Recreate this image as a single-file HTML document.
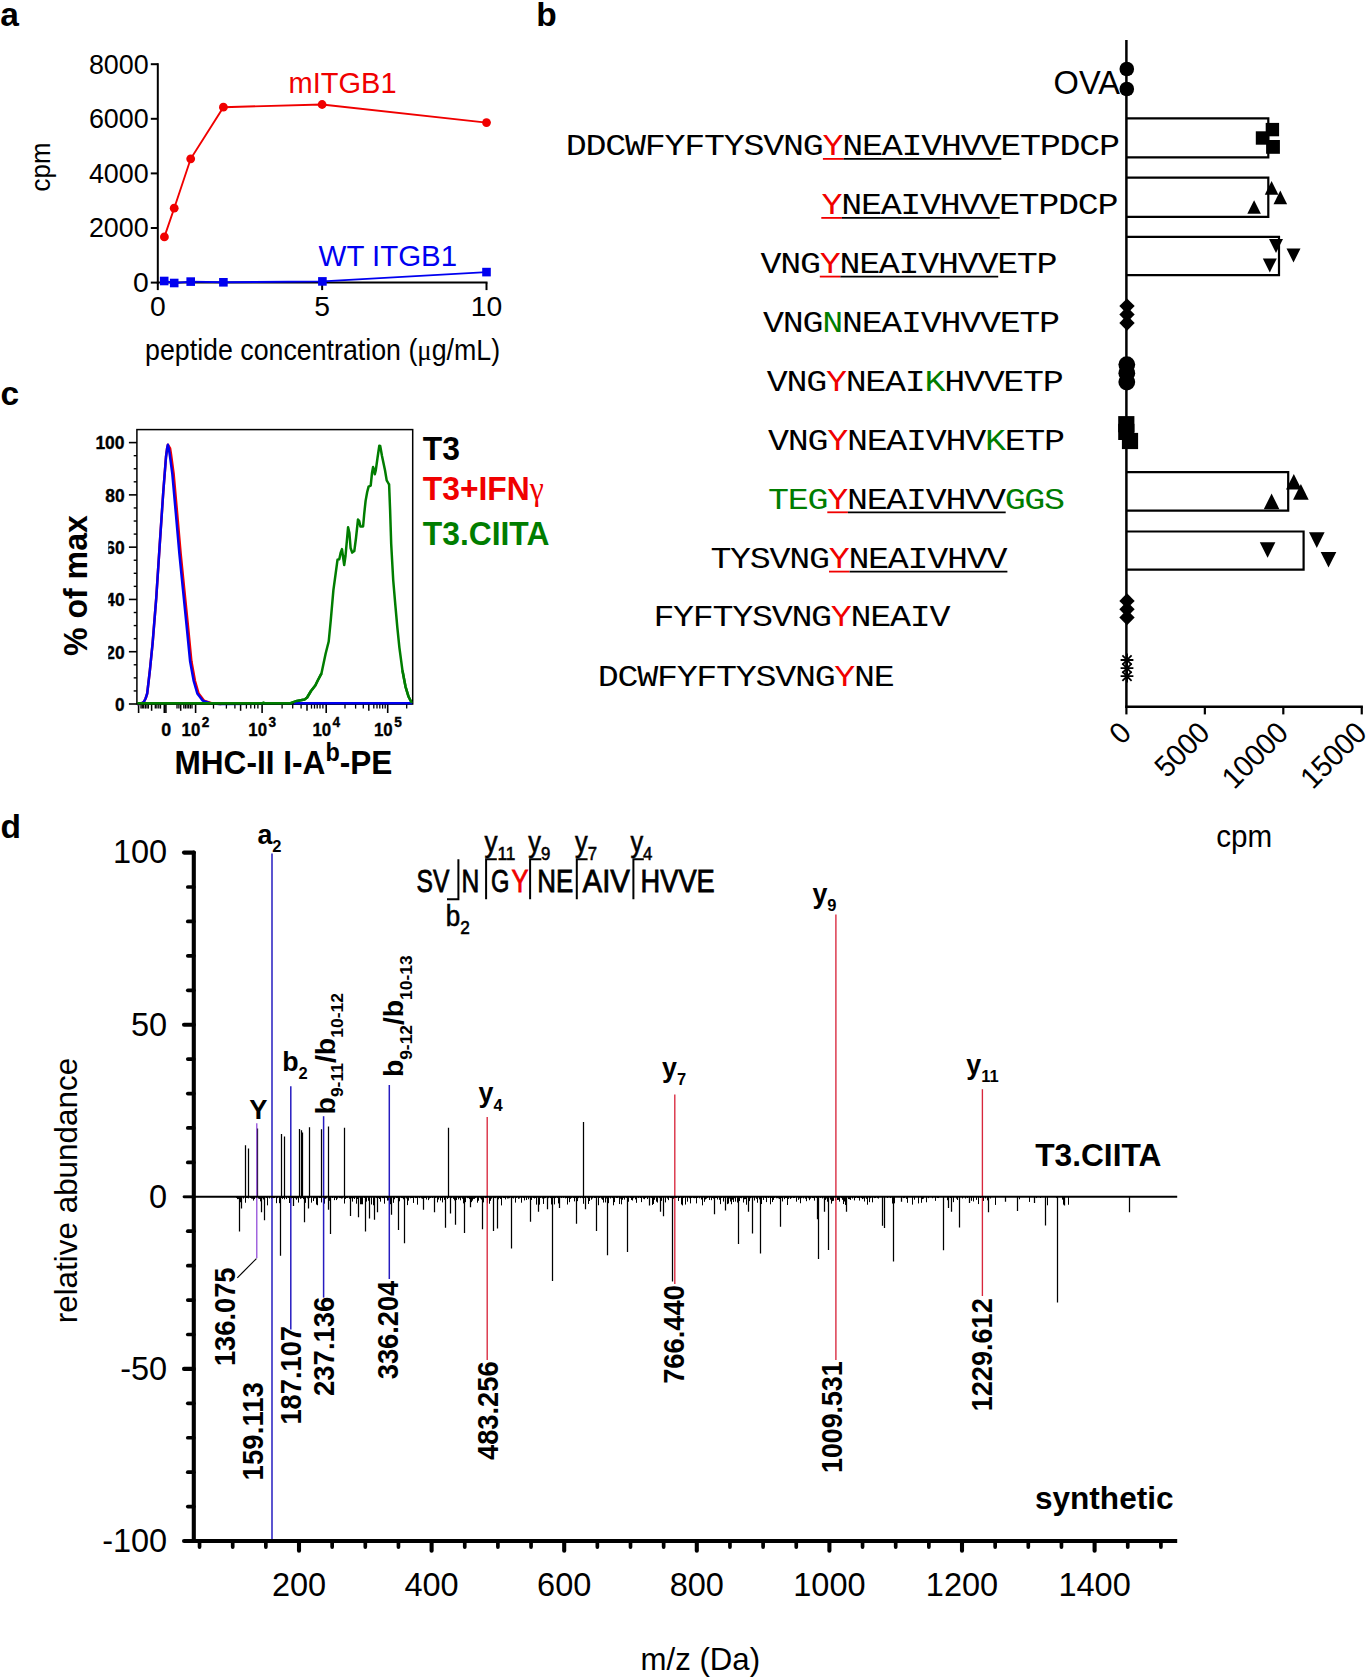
<!DOCTYPE html>
<html lang="en"><head><meta charset="utf-8"><title>Figure</title>
<style>html,body{margin:0;padding:0;background:#fff}svg{display:block}text{font-family:"Liberation Sans", sans-serif;}.mono{font-family:"Liberation Mono", "DejaVu Sans Mono", monospace;}.serif{font-family:"Liberation Serif","DejaVu Serif",serif;}</style>
</head><body>
<svg width="1366" height="1678" viewBox="0 0 1366 1678">
<rect width="1366" height="1678" fill="#fff"/>
<text x="0.2" y="26" font-size="33.5" font-weight="bold">a</text>
<text x="536.3" y="26" font-size="33.5" font-weight="bold">b</text>
<text x="0.4" y="405.2" font-size="33.5" font-weight="bold">c</text>
<text x="0.4" y="837.9" font-size="33.5" font-weight="bold">d</text>
<g id="panel-a">
<line x1="157.8" y1="63.2" x2="157.8" y2="283.6" stroke="#000" stroke-width="2"/>
<line x1="156.8" y1="282.6" x2="487.5" y2="282.6" stroke="#000" stroke-width="2"/>
<line x1="150.8" y1="282.6" x2="157.8" y2="282.6" stroke="#000" stroke-width="2"/>
<text x="148.7" y="291.9" font-size="28.3" text-anchor="end">0</text>
<line x1="150.8" y1="228" x2="157.8" y2="228" stroke="#000" stroke-width="2"/>
<text x="148.7" y="237.3" font-size="28.3" text-anchor="end" textLength="59.8" lengthAdjust="spacingAndGlyphs">2000</text>
<line x1="150.8" y1="173.4" x2="157.8" y2="173.4" stroke="#000" stroke-width="2"/>
<text x="148.7" y="182.7" font-size="28.3" text-anchor="end" textLength="59.8" lengthAdjust="spacingAndGlyphs">4000</text>
<line x1="150.8" y1="118.8" x2="157.8" y2="118.8" stroke="#000" stroke-width="2"/>
<text x="148.7" y="128.1" font-size="28.3" text-anchor="end" textLength="59.8" lengthAdjust="spacingAndGlyphs">6000</text>
<line x1="150.8" y1="64.2" x2="157.8" y2="64.2" stroke="#000" stroke-width="2"/>
<text x="148.7" y="73.5" font-size="28.3" text-anchor="end" textLength="59.8" lengthAdjust="spacingAndGlyphs">8000</text>
<line x1="157.8" y1="282.6" x2="157.8" y2="290.1" stroke="#000" stroke-width="2"/>
<text x="157.8" y="316" font-size="28.3" text-anchor="middle">0</text>
<line x1="322.15" y1="282.6" x2="322.15" y2="290.1" stroke="#000" stroke-width="2"/>
<text x="322.15" y="316" font-size="28.3" text-anchor="middle">5</text>
<line x1="486.5" y1="282.6" x2="486.5" y2="290.1" stroke="#000" stroke-width="2"/>
<text x="486.5" y="316" font-size="28.3" text-anchor="middle">10</text>
<text x="322.6" y="359.6" font-size="28.8" text-anchor="middle" textLength="355" lengthAdjust="spacingAndGlyphs">peptide concentration (<tspan class="serif">μ</tspan>g/mL)</text>
<text font-size="28.3" text-anchor="middle" textLength="48.8" lengthAdjust="spacingAndGlyphs" transform="translate(49.6 167) rotate(-90)">cpm</text>
<polyline fill="none" stroke="#f00000" stroke-width="1.9" points="164.4,236.9 174.2,208.2 190.7,158.8 223.4,107.2 322.1,104.5 486.5,122.6"/>
<circle cx="164.4" cy="236.9" r="4.4" fill="#f00000"/>
<circle cx="174.2" cy="208.2" r="4.4" fill="#f00000"/>
<circle cx="190.7" cy="158.8" r="4.4" fill="#f00000"/>
<circle cx="223.4" cy="107.2" r="4.4" fill="#f00000"/>
<circle cx="322.1" cy="104.5" r="4.4" fill="#f00000"/>
<circle cx="486.5" cy="122.6" r="4.4" fill="#f00000"/>
<polyline fill="none" stroke="#0000f0" stroke-width="1.9" points="164.2,281 174.2,283 190.7,281.6 223.4,282.3 322.4,281.4 486.5,272.1"/>
<rect x="159.9" y="276.7" width="8.6" height="8.6" fill="#0000f0"/>
<rect x="169.9" y="278.7" width="8.6" height="8.6" fill="#0000f0"/>
<rect x="186.4" y="277.3" width="8.6" height="8.6" fill="#0000f0"/>
<rect x="219.1" y="278" width="8.6" height="8.6" fill="#0000f0"/>
<rect x="318.1" y="277.1" width="8.6" height="8.6" fill="#0000f0"/>
<rect x="482.2" y="267.8" width="8.6" height="8.6" fill="#0000f0"/>
<text x="288.6" y="93.3" font-size="29.3" fill="#f00000" textLength="108" lengthAdjust="spacingAndGlyphs">mITGB1</text>
<text x="318.6" y="265.6" font-size="29.3" fill="#0000f0" textLength="138.5" lengthAdjust="spacingAndGlyphs">WT ITGB1</text>
</g>
<g id="panel-c">
<line x1="128.9" y1="704" x2="136.9" y2="704" stroke="#000" stroke-width="1.6"/>
<line x1="133.7" y1="690.93" x2="136.9" y2="690.93" stroke="#000" stroke-width="1.4"/>
<line x1="133.7" y1="677.86" x2="136.9" y2="677.86" stroke="#000" stroke-width="1.4"/>
<line x1="133.7" y1="664.79" x2="136.9" y2="664.79" stroke="#000" stroke-width="1.4"/>
<line x1="128.9" y1="651.72" x2="136.9" y2="651.72" stroke="#000" stroke-width="1.6"/>
<line x1="133.7" y1="638.65" x2="136.9" y2="638.65" stroke="#000" stroke-width="1.4"/>
<line x1="133.7" y1="625.58" x2="136.9" y2="625.58" stroke="#000" stroke-width="1.4"/>
<line x1="133.7" y1="612.51" x2="136.9" y2="612.51" stroke="#000" stroke-width="1.4"/>
<line x1="128.9" y1="599.44" x2="136.9" y2="599.44" stroke="#000" stroke-width="1.6"/>
<line x1="133.7" y1="586.37" x2="136.9" y2="586.37" stroke="#000" stroke-width="1.4"/>
<line x1="133.7" y1="573.3" x2="136.9" y2="573.3" stroke="#000" stroke-width="1.4"/>
<line x1="133.7" y1="560.23" x2="136.9" y2="560.23" stroke="#000" stroke-width="1.4"/>
<line x1="128.9" y1="547.16" x2="136.9" y2="547.16" stroke="#000" stroke-width="1.6"/>
<line x1="133.7" y1="534.09" x2="136.9" y2="534.09" stroke="#000" stroke-width="1.4"/>
<line x1="133.7" y1="521.02" x2="136.9" y2="521.02" stroke="#000" stroke-width="1.4"/>
<line x1="133.7" y1="507.95" x2="136.9" y2="507.95" stroke="#000" stroke-width="1.4"/>
<line x1="128.9" y1="494.88" x2="136.9" y2="494.88" stroke="#000" stroke-width="1.6"/>
<line x1="133.7" y1="481.81" x2="136.9" y2="481.81" stroke="#000" stroke-width="1.4"/>
<line x1="133.7" y1="468.74" x2="136.9" y2="468.74" stroke="#000" stroke-width="1.4"/>
<line x1="133.7" y1="455.67" x2="136.9" y2="455.67" stroke="#000" stroke-width="1.4"/>
<line x1="128.9" y1="442.6" x2="136.9" y2="442.6" stroke="#000" stroke-width="1.6"/>
<clipPath id="cc"><rect x="108.3" y="420" width="40" height="300"/></clipPath>
<text x="124.6" y="710.8" font-size="18.5" font-weight="bold" text-anchor="end" textLength="9.6" lengthAdjust="spacingAndGlyphs" stroke="#000" stroke-width="0.35">0</text>
<text x="124.6" y="658.52" font-size="18.5" font-weight="bold" text-anchor="end" textLength="19.4" lengthAdjust="spacingAndGlyphs" clip-path="url(#cc)" stroke="#000" stroke-width="0.35">20</text>
<text x="124.6" y="606.24" font-size="18.5" font-weight="bold" text-anchor="end" textLength="19.4" lengthAdjust="spacingAndGlyphs" clip-path="url(#cc)" stroke="#000" stroke-width="0.35">40</text>
<text x="124.6" y="553.96" font-size="18.5" font-weight="bold" text-anchor="end" textLength="19.4" lengthAdjust="spacingAndGlyphs" clip-path="url(#cc)" stroke="#000" stroke-width="0.35">60</text>
<text x="124.6" y="501.68" font-size="18.5" font-weight="bold" text-anchor="end" textLength="19.4" lengthAdjust="spacingAndGlyphs" stroke="#000" stroke-width="0.35">80</text>
<text x="124.6" y="449.4" font-size="18.5" font-weight="bold" text-anchor="end" textLength="29.2" lengthAdjust="spacingAndGlyphs" stroke="#000" stroke-width="0.35">100</text>
<line x1="138.6" y1="704" x2="138.6" y2="713" stroke="#000" stroke-width="1.6"/>
<line x1="195.6" y1="704" x2="195.6" y2="713" stroke="#000" stroke-width="1.6"/>
<line x1="262.1" y1="704" x2="262.1" y2="713" stroke="#000" stroke-width="1.6"/>
<line x1="326.2" y1="704" x2="326.2" y2="713" stroke="#000" stroke-width="1.6"/>
<line x1="387.7" y1="704" x2="387.7" y2="713" stroke="#000" stroke-width="1.6"/>
<line x1="164.3" y1="704" x2="164.3" y2="713" stroke="#000" stroke-width="1.6"/>
<line x1="165.9" y1="704" x2="165.9" y2="713" stroke="#000" stroke-width="1.6"/>
<line x1="151.6" y1="704" x2="151.6" y2="710.8" stroke="#000" stroke-width="1.5"/>
<line x1="180.7" y1="704" x2="180.7" y2="710.8" stroke="#000" stroke-width="1.5"/>
<line x1="240.6" y1="704" x2="240.6" y2="710.8" stroke="#000" stroke-width="1.5"/>
<line x1="307" y1="704" x2="307" y2="710.8" stroke="#000" stroke-width="1.5"/>
<line x1="368.8" y1="704" x2="368.8" y2="710.8" stroke="#000" stroke-width="1.5"/>
<line x1="141" y1="704" x2="141" y2="708.6" stroke="#000" stroke-width="1.3"/>
<line x1="142.3" y1="704" x2="142.3" y2="708.6" stroke="#000" stroke-width="1.3"/>
<line x1="143.7" y1="704" x2="143.7" y2="708.6" stroke="#000" stroke-width="1.3"/>
<line x1="145.4" y1="704" x2="145.4" y2="708.6" stroke="#000" stroke-width="1.3"/>
<line x1="147" y1="704" x2="147" y2="708.6" stroke="#000" stroke-width="1.3"/>
<line x1="148.4" y1="704" x2="148.4" y2="708.6" stroke="#000" stroke-width="1.3"/>
<line x1="155.3" y1="704" x2="155.3" y2="708.6" stroke="#000" stroke-width="1.3"/>
<line x1="156.9" y1="704" x2="156.9" y2="708.6" stroke="#000" stroke-width="1.3"/>
<line x1="158.8" y1="704" x2="158.8" y2="708.6" stroke="#000" stroke-width="1.3"/>
<line x1="160.5" y1="704" x2="160.5" y2="708.6" stroke="#000" stroke-width="1.3"/>
<line x1="177" y1="704" x2="177" y2="708.6" stroke="#000" stroke-width="1.3"/>
<line x1="178.9" y1="704" x2="178.9" y2="708.6" stroke="#000" stroke-width="1.3"/>
<line x1="183.8" y1="704" x2="183.8" y2="708.6" stroke="#000" stroke-width="1.3"/>
<line x1="185.4" y1="704" x2="185.4" y2="708.6" stroke="#000" stroke-width="1.3"/>
<line x1="187.1" y1="704" x2="187.1" y2="708.6" stroke="#000" stroke-width="1.3"/>
<line x1="188.7" y1="704" x2="188.7" y2="708.6" stroke="#000" stroke-width="1.3"/>
<line x1="190.4" y1="704" x2="190.4" y2="708.6" stroke="#000" stroke-width="1.3"/>
<line x1="192" y1="704" x2="192" y2="708.6" stroke="#000" stroke-width="1.3"/>
<line x1="213.5" y1="704" x2="213.5" y2="708.6" stroke="#000" stroke-width="1.3"/>
<line x1="226.4" y1="704" x2="226.4" y2="708.6" stroke="#000" stroke-width="1.3"/>
<line x1="234.9" y1="704" x2="234.9" y2="708.6" stroke="#000" stroke-width="1.3"/>
<line x1="246.4" y1="704" x2="246.4" y2="708.6" stroke="#000" stroke-width="1.3"/>
<line x1="250.8" y1="704" x2="250.8" y2="708.6" stroke="#000" stroke-width="1.3"/>
<line x1="254.6" y1="704" x2="254.6" y2="708.6" stroke="#000" stroke-width="1.3"/>
<line x1="257.9" y1="704" x2="257.9" y2="708.6" stroke="#000" stroke-width="1.3"/>
<line x1="282.1" y1="704" x2="282.1" y2="708.6" stroke="#000" stroke-width="1.3"/>
<line x1="292.7" y1="704" x2="292.7" y2="708.6" stroke="#000" stroke-width="1.3"/>
<line x1="301.1" y1="704" x2="301.1" y2="708.6" stroke="#000" stroke-width="1.3"/>
<line x1="311.5" y1="704" x2="311.5" y2="708.6" stroke="#000" stroke-width="1.3"/>
<line x1="314.5" y1="704" x2="314.5" y2="708.6" stroke="#000" stroke-width="1.3"/>
<line x1="317.2" y1="704" x2="317.2" y2="708.6" stroke="#000" stroke-width="1.3"/>
<line x1="320" y1="704" x2="320" y2="708.6" stroke="#000" stroke-width="1.3"/>
<line x1="322.9" y1="704" x2="322.9" y2="708.6" stroke="#000" stroke-width="1.3"/>
<line x1="345" y1="704" x2="345" y2="708.6" stroke="#000" stroke-width="1.3"/>
<line x1="355.6" y1="704" x2="355.6" y2="708.6" stroke="#000" stroke-width="1.3"/>
<line x1="363.3" y1="704" x2="363.3" y2="708.6" stroke="#000" stroke-width="1.3"/>
<line x1="373.8" y1="704" x2="373.8" y2="708.6" stroke="#000" stroke-width="1.3"/>
<line x1="377" y1="704" x2="377" y2="708.6" stroke="#000" stroke-width="1.3"/>
<line x1="379.8" y1="704" x2="379.8" y2="708.6" stroke="#000" stroke-width="1.3"/>
<line x1="382.6" y1="704" x2="382.6" y2="708.6" stroke="#000" stroke-width="1.3"/>
<line x1="385.2" y1="704" x2="385.2" y2="708.6" stroke="#000" stroke-width="1.3"/>
<line x1="406.7" y1="704" x2="406.7" y2="708.6" stroke="#000" stroke-width="1.3"/>
<text x="166.2" y="736.2" font-size="18.5" font-weight="bold" text-anchor="middle" textLength="9.9" lengthAdjust="spacingAndGlyphs" stroke="#000" stroke-width="0.35">0</text>
<text x="181.6" y="736.2" font-size="18.5" font-weight="bold" textLength="18.7" lengthAdjust="spacingAndGlyphs" stroke="#000" stroke-width="0.35">10</text>
<text x="201.8" y="727.4" font-size="15.5" font-weight="bold" textLength="7.6" lengthAdjust="spacingAndGlyphs" stroke="#000" stroke-width="0.35">2</text>
<text x="248.3" y="736.2" font-size="18.5" font-weight="bold" textLength="18.7" lengthAdjust="spacingAndGlyphs" stroke="#000" stroke-width="0.35">10</text>
<text x="268.5" y="727.4" font-size="15.5" font-weight="bold" textLength="7.6" lengthAdjust="spacingAndGlyphs" stroke="#000" stroke-width="0.35">3</text>
<text x="312.4" y="736.2" font-size="18.5" font-weight="bold" textLength="18.7" lengthAdjust="spacingAndGlyphs" stroke="#000" stroke-width="0.35">10</text>
<text x="332.6" y="727.4" font-size="15.5" font-weight="bold" textLength="7.6" lengthAdjust="spacingAndGlyphs" stroke="#000" stroke-width="0.35">4</text>
<text x="374" y="736.2" font-size="18.5" font-weight="bold" textLength="18.7" lengthAdjust="spacingAndGlyphs" stroke="#000" stroke-width="0.35">10</text>
<text x="394.2" y="727.4" font-size="15.5" font-weight="bold" textLength="7.6" lengthAdjust="spacingAndGlyphs" stroke="#000" stroke-width="0.35">5</text>
<polyline fill="none" stroke="#f00000" stroke-width="2.5" stroke-linejoin="round" points="137.4,704.2 141,703.6 143.7,702.2 145.6,698.5 147.2,693.5 149.9,670.2 152.6,643.4 156.2,598.7 159.7,545.1 163.3,491.5 166,457 167.1,448.5 167.9,444.8 170.1,448.5 171.1,455 173.6,473.6 177.1,512.9 180.7,554 184.3,589.8 187.9,625.5 191.4,661.3 195,681 198.6,693.5 203.9,700.6 212.9,703.6 221.3,704"/>
<polyline fill="none" stroke="#0000f0" stroke-width="2.5" stroke-linejoin="round" points="137.4,704.2 141,703.6 143.7,702.2 145.6,698.5 147.2,693.5 149.9,670.2 152.6,643.4 156.2,598.7 159.7,545.1 163.3,491.5 166,457 167.1,448.5 167.9,444.8 168.8,448.5 169.8,455 172.3,473.6 175.8,512.9 179.4,554 183,589.8 186.6,625.5 190.1,661.3 193.7,681 197.3,693.5 202.6,700.6 211.6,703.6 220,704 412.7,703.2"/>
<polyline fill="none" stroke="#007d00" stroke-width="2.5" stroke-linejoin="round" points="137.4,703.4 262,703.4 263.5,702.6 265,703.4 289.8,703.4 296.9,700.9 304.5,699.6 307.1,697.5 311,691 315.3,685.5 318,680 321.5,673.3 325.6,653.8 328.7,641.5 330.7,621 333.4,590.2 334.8,579.8 337.5,559.8 339.3,559.3 340.6,553 342,549.1 343.2,558 344.2,565 345.5,556 348.1,527.2 349.4,533 350.6,548 352.2,552.6 354.3,551.1 356,538 358,519.5 359.2,521 360.4,526.5 363.1,526.5 364.2,514 365.6,500.9 367.2,492 368.6,486.6 370.7,485.6 372,473 373.1,467.1 374.1,470 374.8,474.3 375.8,470.2 377.5,458 379.3,445.8 380.2,446 382,456 385,470.2 386.7,480.4 388.2,483 389.1,484.5 390.1,510 391.2,544 393.2,580 395.3,604.6 397.3,627.1 399.4,647.6 402.4,670.2 405.5,686.6 408.6,696.8 411.8,703"/>
<rect x="136.9" y="429.6" width="275.8" height="274.4" fill="none" stroke="#000" stroke-width="1.5"/>
<line x1="137.4" y1="703.3" x2="292" y2="703.3" stroke="#007d00" stroke-width="2.4"/>
<line x1="294" y1="703.1" x2="412.2" y2="703.1" stroke="#0000f0" stroke-width="2.2"/>
<polyline fill="none" stroke="#007d00" stroke-width="2.5" stroke-linejoin="round" points="289.8,703.4 296.9,700.9 304.5,699.6 307.1,697.5 311,691 315.3,685.5 318,680 321.5,673.3"/>
<polyline fill="none" stroke="#007d00" stroke-width="2.5" stroke-linejoin="round" points="402.4,670.2 405.5,686.6 408.6,696.8 411.8,703"/>
<text font-size="32.3" font-weight="bold" text-anchor="middle" textLength="141" lengthAdjust="spacingAndGlyphs" transform="translate(86.5 585.6) rotate(-90) scale(1 1.05)">% of max</text>
<text font-size="31.6" font-weight="bold" textLength="218" lengthAdjust="spacingAndGlyphs" transform="translate(174.4 773.5) scale(1 1.07)">MHC-II I-A<tspan dy="-11.4" font-size="23.4">b</tspan><tspan dy="11.4">-PE</tspan></text>
<text font-size="31.8" font-weight="bold" transform="translate(422.8 459.8) scale(1 1.05)">T3</text>
<text font-size="31.8" font-weight="bold" fill="#f00000" transform="translate(422.8 500) scale(1 1.05)">T3+IFN<tspan class="serif" font-weight="normal">γ</tspan></text>
<text font-size="31.8" font-weight="bold" fill="#007d00" transform="translate(422.8 545.2) scale(1 1.05)">T3.CIITA</text>
</g>
<g id="panel-b">
<text class="mono" transform="translate(565.7 155.3) scale(1 0.83)" font-size="35" textLength="554.4" lengthAdjust="spacing">DDCWFYFTYSVNG<tspan fill="#f00000">Y</tspan>NEAIVHVVETPDCP</text>
<line x1="822.9" y1="158.9" x2="843.5" y2="158.9" stroke="#f00000" stroke-width="1.8"/>
<line x1="843.5" y1="158.9" x2="1001.3" y2="158.9" stroke="#000" stroke-width="1.8"/>
<text class="mono" transform="translate(821.5 214.3) scale(1 0.83)" font-size="35" textLength="297" lengthAdjust="spacing"><tspan fill="#f00000">Y</tspan>NEAIVHVVETPDCP</text>
<line x1="821.3" y1="217.9" x2="841.9" y2="217.9" stroke="#f00000" stroke-width="1.8"/>
<line x1="841.9" y1="217.9" x2="999.7" y2="217.9" stroke="#000" stroke-width="1.8"/>
<text class="mono" transform="translate(760.6 273) scale(1 0.83)" font-size="35" textLength="297" lengthAdjust="spacing">VNG<tspan fill="#f00000">Y</tspan>NEAIVHVVETP</text>
<line x1="819.8" y1="276.6" x2="840.4" y2="276.6" stroke="#f00000" stroke-width="1.8"/>
<line x1="840.4" y1="276.6" x2="998.2" y2="276.6" stroke="#000" stroke-width="1.8"/>
<text class="mono" transform="translate(763.1 332.2) scale(1 0.83)" font-size="35" textLength="297" lengthAdjust="spacing">VNG<tspan fill="#007d00">N</tspan>NEAIVHVVETP</text>
<text class="mono" transform="translate(766.8 391.4) scale(1 0.83)" font-size="35" textLength="297" lengthAdjust="spacing">VNG<tspan fill="#f00000">Y</tspan>NEAI<tspan fill="#007d00">K</tspan>HVVETP</text>
<text class="mono" transform="translate(768.1 450.3) scale(1 0.83)" font-size="35" textLength="297" lengthAdjust="spacing">VNG<tspan fill="#f00000">Y</tspan>NEAIVHV<tspan fill="#007d00">K</tspan>ETP</text>
<text class="mono" transform="translate(768.1 508.7) scale(1 0.83)" font-size="35" textLength="297" lengthAdjust="spacing"><tspan fill="#007d00">TEG</tspan><tspan fill="#f00000">Y</tspan>NEAIVHVV<tspan fill="#007d00">GGS</tspan></text>
<line x1="827.3" y1="512.3" x2="847.9" y2="512.3" stroke="#f00000" stroke-width="1.8"/>
<line x1="847.9" y1="512.3" x2="1005.7" y2="512.3" stroke="#000" stroke-width="1.8"/>
<text class="mono" transform="translate(710.4 568) scale(1 0.83)" font-size="35" textLength="297" lengthAdjust="spacing">TYSVNG<tspan fill="#f00000">Y</tspan>NEAIVHVV</text>
<line x1="829" y1="571.6" x2="849.6" y2="571.6" stroke="#f00000" stroke-width="1.8"/>
<line x1="849.6" y1="571.6" x2="1007.4" y2="571.6" stroke="#000" stroke-width="1.8"/>
<text class="mono" transform="translate(653.4 626.4) scale(1 0.83)" font-size="35" textLength="297" lengthAdjust="spacing">FYFTYSVNG<tspan fill="#f00000">Y</tspan>NEAIV</text>
<text class="mono" transform="translate(597.8 685.7) scale(1 0.83)" font-size="35" textLength="297" lengthAdjust="spacing">DCWFYFTYSVNG<tspan fill="#f00000">Y</tspan>NE</text>
<text font-size="31" textLength="66.4" lengthAdjust="spacingAndGlyphs" transform="translate(1053.6 93.5) scale(1 1.1)">OVA</text>
<line x1="1126.4" y1="40" x2="1126.4" y2="707.9" stroke="#000" stroke-width="2.5"/>
<line x1="1125.2" y1="706.7" x2="1362.9" y2="706.7" stroke="#000" stroke-width="2.4"/>
<line x1="1126.4" y1="706.7" x2="1126.4" y2="714.4" stroke="#000" stroke-width="2.2"/>
<line x1="1204.85" y1="706.7" x2="1204.85" y2="714.4" stroke="#000" stroke-width="2.2"/>
<line x1="1283.3" y1="706.7" x2="1283.3" y2="714.4" stroke="#000" stroke-width="2.2"/>
<line x1="1361.75" y1="706.7" x2="1361.75" y2="714.4" stroke="#000" stroke-width="2.2"/>
<path d="M1126.4 118.4H1268.3V157.4H1126.4" fill="none" stroke="#000" stroke-width="2.2"/>
<path d="M1126.4 177.7H1268.3V216.8H1126.4" fill="none" stroke="#000" stroke-width="2.2"/>
<path d="M1126.4 236.8H1279V275.2H1126.4" fill="none" stroke="#000" stroke-width="2.2"/>
<path d="M1126.4 472.2H1288.2V510.6H1126.4" fill="none" stroke="#000" stroke-width="2.2"/>
<path d="M1126.4 531.5H1303.6V569.7H1126.4" fill="none" stroke="#000" stroke-width="2.2"/>
<circle cx="1126.8" cy="69" r="7.3"/>
<circle cx="1126.8" cy="89" r="7.3"/>
<rect x="1265.7" y="122.9" width="13.4" height="13.4"/>
<rect x="1255.8" y="131.3" width="13.4" height="13.4"/>
<rect x="1266.1" y="140" width="13.8" height="13.8"/>
<path d="M1271.6 181.1L1278.4 194.7L1264.8 194.7Z"/>
<path d="M1280.3 190.6L1287.1 204.2L1273.5 204.2Z"/>
<path d="M1254.1 200.2L1260.9 213.8L1247.3 213.8Z"/>
<path d="M1276 253L1283 239L1269 239Z"/>
<path d="M1293.5 262.5L1300.5 248.5L1286.5 248.5Z"/>
<path d="M1269.8 272.4L1276.8 258.4L1262.8 258.4Z"/>
<path d="M1127 298.4L1134.7 306.1L1127 313.8L1119.3 306.1Z"/>
<path d="M1127 306.8L1134.7 314.5L1127 322.2L1119.3 314.5Z"/>
<path d="M1127 315.3L1134.7 323L1127 330.7L1119.3 323Z"/>
<circle cx="1126.8" cy="364.6" r="8.4"/>
<circle cx="1126.8" cy="373.2" r="8.4"/>
<circle cx="1126.8" cy="382.1" r="8.4"/>
<rect x="1118.2" y="416.1" width="16.2" height="16.2"/>
<rect x="1118.2" y="423.8" width="16.2" height="16.2"/>
<rect x="1121.9" y="432.9" width="16.2" height="16.2"/>
<path d="M1293.8 473.9L1301.6 489.5L1286 489.5Z"/>
<path d="M1300.9 484.1L1308.7 499.7L1293.1 499.7Z"/>
<path d="M1271.6 493.6L1279.4 509.2L1263.8 509.2Z"/>
<path d="M1316.8 547.9L1324.6 532.3L1309 532.3Z"/>
<path d="M1267.6 557.8L1275.4 542.2L1259.8 542.2Z"/>
<path d="M1328.5 567.6L1336.3 552L1320.7 552Z"/>
<path d="M1127 593.2L1134.7 600.9L1127 608.6L1119.3 600.9Z"/>
<path d="M1127 601.5L1134.7 609.2L1127 616.9L1119.3 609.2Z"/>
<path d="M1127 609.8L1134.7 617.5L1127 625.2L1119.3 617.5Z"/>
<path d="M1127 653.6V666.4M1120.6 660H1133.4M1122.39 655.39L1131.61 664.61M1122.39 664.61L1131.61 655.39" fill="none" stroke="#000" stroke-width="1.8"/>
<path d="M1127 661.8V674.6M1120.6 668.2H1133.4M1122.39 663.59L1131.61 672.81M1122.39 672.81L1131.61 663.59" fill="none" stroke="#000" stroke-width="1.8"/>
<path d="M1127 669.8V682.6M1120.6 676.2H1133.4M1122.39 671.59L1131.61 680.81M1122.39 680.81L1131.61 671.59" fill="none" stroke="#000" stroke-width="1.8"/>
<text font-size="30" text-anchor="end" textLength="15.75" lengthAdjust="spacingAndGlyphs" transform="translate(1133 734.5) rotate(-45)">0</text>
<text font-size="30" text-anchor="end" textLength="63" lengthAdjust="spacingAndGlyphs" transform="translate(1211.45 734.5) rotate(-45)">5000</text>
<text font-size="30" text-anchor="end" textLength="78.75" lengthAdjust="spacingAndGlyphs" transform="translate(1289.9 734.5) rotate(-45)">10000</text>
<text font-size="30" text-anchor="end" textLength="78.75" lengthAdjust="spacingAndGlyphs" transform="translate(1368.35 734.5) rotate(-45)">15000</text>
<text font-size="29.6" text-anchor="middle" transform="translate(1244.1 846.9) scale(1 1.07)">cpm</text>
</g>
<g id="panel-d">
<path d="M236.5 1196.8v1.23M237.5 1196.8v2.35M238.5 1196.8v2.18M239.5 1196.8v1.2M240.5 1196.8v5.44M241.5 1196.8v3.05M243.5 1196.8v1.67M245.5 1196.8v5.94M246.5 1196.8v1.21M247.5 1196.8v1.24M248.5 1196.8v1.59M250.5 1196.8v1.2M251.5 1196.8v1.79M252.5 1196.8v1.9M253.5 1196.8v3.76M254.5 1196.8v2.29M256.5 1196.8v1.38M258.5 1196.8v1.75M259.5 1196.8v2.08M260.5 1196.8v4.55M262.5 1196.8v1.43M263.5 1196.8v2.66M264.5 1196.8v7.52M266.5 1196.8v1.2M267.5 1196.8v8.55M269.5 1196.8v1.63M271.5 1196.8v1.94M272.5 1196.8v1.2M273.5 1196.8v1.31M274.5 1196.8v1.2M276.5 1196.8v6.37M277.5 1196.8v1.36M279.5 1196.8v6.38M281.5 1196.8v1.24M282.5 1196.8v2.06M283.5 1196.8v1.2M284.5 1196.8v2.56M286.5 1196.8v2.23M288.5 1196.8v1.2M289.5 1196.8v6.22M291.5 1196.8v1.68M292.5 1196.8v1.2M293.5 1196.8v1.23M294.5 1196.8v1.2M295.5 1196.8v1.56M296.5 1196.8v2.94M297.5 1196.8v1.51M298.5 1196.8v5.79M300.5 1196.8v2.05M301.5 1196.8v1.5M302.5 1196.8v1.23M303.5 1196.8v2.31M304.5 1196.8v1.2M305.5 1196.8v6.03M307.5 1196.8v1.57M308.5 1196.8v2.33M309.5 1196.8v1.28M311.5 1196.8v5.85M313.5 1196.8v4.24M314.5 1196.8v1.54M315.5 1196.8v1.36M316.5 1196.8v7.76M317.5 1196.8v8.43M319.5 1196.8v1.28M320.5 1196.8v1.26M321.5 1196.8v5.65M323.5 1196.8v5.03M324.5 1196.8v6.85M325.5 1196.8v2.02M326.5 1196.8v1.48M328.5 1196.8v1.67M329.5 1196.8v4.06M330.5 1196.8v1.23M332.5 1196.8v1.22M334.5 1196.8v3.33M335.5 1196.8v1.22M336.5 1196.8v3.26M337.5 1196.8v1.81M339.5 1196.8v1.27M340.5 1196.8v1.3M341.5 1196.8v1.75M342.5 1196.8v1.53M344.5 1196.8v6.75M345.5 1196.8v2.15M346.5 1196.8v1.2M347.5 1196.8v1.2M349.5 1196.8v2M351.5 1196.8v1.46M352.5 1196.8v4.82M353.5 1196.8v1.32M354.5 1196.8v2.18M356.5 1196.8v6.9M357.5 1196.8v2.17M358.5 1196.8v1.89M360.5 1196.8v7.46M361.5 1196.8v7.47M362.5 1196.8v7.49M364.5 1196.8v1.21M365.5 1196.8v1.3M366.5 1196.8v4.81M368.5 1196.8v3.95M369.5 1196.8v6.36M371.5 1196.8v7.68M373.5 1196.8v8.47M374.5 1196.8v1.8M376.5 1196.8v1.26M377.5 1196.8v1.2M378.5 1196.8v1.2M379.5 1196.8v2.21M380.5 1196.8v4.87M382.5 1196.8v1.34M383.5 1196.8v1.35M384.5 1196.8v6.88M386.5 1196.8v1.22M387.5 1196.8v3.78M388.5 1196.8v3.64M390.5 1196.8v7.4M391.5 1196.8v1.2M393.5 1196.8v6.02M394.5 1196.8v2.47M396.5 1196.8v1.22M397.5 1196.8v1.21M398.5 1196.8v1.26M399.5 1196.8v4.49M401.5 1196.8v1.24M402.5 1196.8v1.32M403.5 1196.8v2.45M404.5 1196.8v7.32M404.5 1196.8v1.81M406.5 1196.8v1.66M407.5 1196.8v8.31M408.5 1196.8v3.85M410.5 1196.8v1.51M411.5 1196.8v1.2M412.5 1196.8v1.23M413.5 1196.8v6.15M415.5 1196.8v1.31M416.5 1196.8v1.23M417.5 1196.8v7.87M419.5 1196.8v1.31M421.5 1196.8v1.54M422.5 1196.8v2M423.5 1196.8v2.16M424.5 1196.8v1.21M425.5 1196.8v1.2M426.5 1196.8v2.71M428.5 1196.8v3.33M429.5 1196.8v1.64M430.5 1196.8v1.23M432.5 1196.8v1.2M434.5 1196.8v3.05M435.5 1196.8v1.22M437.5 1196.8v5.57M438.5 1196.8v2.69M440.5 1196.8v3.7M441.5 1196.8v1.22M442.5 1196.8v5.58M444.5 1196.8v3.04M445.5 1196.8v1.2M447.5 1196.8v2.15M448.5 1196.8v1.2M450.5 1196.8v1.2M451.5 1196.8v1.26M453.5 1196.8v2.1M454.5 1196.8v3.6M456.5 1196.8v3.19M456.5 1196.8v1.32M458.5 1196.8v2.57M459.5 1196.8v1.35M460.5 1196.8v3.51M462.5 1196.8v1.95M463.5 1196.8v6.55M464.5 1196.8v7.36M465.5 1196.8v5.33M467.5 1196.8v1.35M468.5 1196.8v1.27M469.5 1196.8v2.28M471.5 1196.8v5.34M472.5 1196.8v3.81M473.5 1196.8v2.06M474.5 1196.8v2.09M475.5 1196.8v1.22M477.5 1196.8v5.65M477.5 1196.8v5.63M478.5 1196.8v3.92M480.5 1196.8v1.59M481.5 1196.8v2.73M483.5 1196.8v1.36M483.5 1196.8v5.56M485.5 1196.8v1.32M486.5 1196.8v1.25M487.5 1196.8v6.39M489.5 1196.8v6.92M490.5 1196.8v3.99M491.5 1196.8v1.89M493.5 1196.8v1.38M494.5 1196.8v1.22M495.5 1196.8v1.4M497.5 1196.8v1.33M498.5 1196.8v2.5M499.5 1196.8v1.23M500.5 1196.8v2.12M501.5 1196.8v8.62M503.5 1196.8v1.25M504.5 1196.8v1.21M505.5 1196.8v2.59M507.5 1196.8v1.73M508.5 1196.8v1.6M509.5 1196.8v1.36M511.5 1196.8v2.16M512.5 1196.8v1.28M513.5 1196.8v1.68M515.5 1196.8v5.78M516.5 1196.8v1.2M518.5 1196.8v2M519.5 1196.8v1.65M521.5 1196.8v5.9M523.5 1196.8v1.21M524.5 1196.8v3.58M526.5 1196.8v3.23M528.5 1196.8v2.46M528.5 1196.8v1.29M530.5 1196.8v1.41M531.5 1196.8v3.13M533.5 1196.8v1.2M534.5 1196.8v1.64M535.5 1196.8v1.2M536.5 1196.8v7.81M538.5 1196.8v2.01M539.5 1196.8v7.85M540.5 1196.8v1.2M542.5 1196.8v1.76M543.5 1196.8v7.14M544.5 1196.8v1.49M545.5 1196.8v1.26M547.5 1196.8v2.17M548.5 1196.8v1.43M550.5 1196.8v1.28M551.5 1196.8v7.67M553.5 1196.8v1.28M554.5 1196.8v7.61M555.5 1196.8v1.27M557.5 1196.8v1.2M558.5 1196.8v6.63M559.5 1196.8v8.64M561.5 1196.8v1.25M563.5 1196.8v1.2M565.5 1196.8v1.59M566.5 1196.8v1.2M567.5 1196.8v7.74M568.5 1196.8v1.27M569.5 1196.8v5.37M570.5 1196.8v2M571.5 1196.8v1.25M573.5 1196.8v1.2M574.5 1196.8v4.58M575.5 1196.8v1.2M577.5 1196.8v4.33M578.5 1196.8v1.35M580.5 1196.8v1.34M582.5 1196.8v1.36M583.5 1196.8v6.97M584.5 1196.8v1.2M585.5 1196.8v7.77M587.5 1196.8v1.32M588.5 1196.8v7.2M589.5 1196.8v4.22M591.5 1196.8v2.88M592.5 1196.8v1.56M594.5 1196.8v1.26M595.5 1196.8v1.2M596.5 1196.8v1.46M598.5 1196.8v8.43M599.5 1196.8v1.21M601.5 1196.8v1.87M602.5 1196.8v2.99M603.5 1196.8v5.76M605.5 1196.8v5.66M606.5 1196.8v1.59M607.5 1196.8v1.31M608.5 1196.8v6.38M610.5 1196.8v1.67M612.5 1196.8v1.29M613.5 1196.8v8.5M614.5 1196.8v5.32M616.5 1196.8v1.2M617.5 1196.8v1.25M619.5 1196.8v7.24M620.5 1196.8v1.88M621.5 1196.8v7.54M622.5 1196.8v2.99M623.5 1196.8v1.22M624.5 1196.8v2.82M626.5 1196.8v1.2M627.5 1196.8v1.25M628.5 1196.8v4.97M630.5 1196.8v1.21M631.5 1196.8v3.16M632.5 1196.8v3.72M633.5 1196.8v1.42M635.5 1196.8v2.56M636.5 1196.8v6.04M638.5 1196.8v1.26M640.5 1196.8v1.2M641.5 1196.8v5.34M643.5 1196.8v1.93M644.5 1196.8v2.46M645.5 1196.8v1.21M647.5 1196.8v2.16M647.5 1196.8v2.26M649.5 1196.8v2.09M651.5 1196.8v1.26M652.5 1196.8v8.16M653.5 1196.8v7.16M654.5 1196.8v2.99M656.5 1196.8v4.84M657.5 1196.8v5.75M659.5 1196.8v1.28M660.5 1196.8v1.62M661.5 1196.8v4.06M663.5 1196.8v2.53M665.5 1196.8v5.62M665.5 1196.8v2.45M667.5 1196.8v1.76M668.5 1196.8v3.34M670.5 1196.8v1.2M671.5 1196.8v1.3M673.5 1196.8v1.92M674.5 1196.8v1.21M675.5 1196.8v1.21M676.5 1196.8v1.2M678.5 1196.8v4.16M679.5 1196.8v1.2M681.5 1196.8v7.65M682.5 1196.8v8.61M683.5 1196.8v1.25M685.5 1196.8v7.77M687.5 1196.8v4.88M689.5 1196.8v1.52M690.5 1196.8v6.6M691.5 1196.8v1.22M693.5 1196.8v1.27M694.5 1196.8v1.44M695.5 1196.8v1.23M696.5 1196.8v6.58M697.5 1196.8v1.21M699.5 1196.8v1.55M701.5 1196.8v2.66M702.5 1196.8v8.54M704.5 1196.8v5.01M705.5 1196.8v2.64M706.5 1196.8v1.85M707.5 1196.8v1.2M709.5 1196.8v3.16M711.5 1196.8v3.39M712.5 1196.8v1.2M713.5 1196.8v1.81M714.5 1196.8v1.22M715.5 1196.8v1.2M716.5 1196.8v1.21M717.5 1196.8v2.69M719.5 1196.8v3.02M720.5 1196.8v7.36M721.5 1196.8v1.21M723.5 1196.8v4.79M724.5 1196.8v1.2M725.5 1196.8v1.52M727.5 1196.8v7.37M728.5 1196.8v6.73M729.5 1196.8v1.7M730.5 1196.8v4.74M731.5 1196.8v7.45M732.5 1196.8v2.89M733.5 1196.8v5.24M734.5 1196.8v1.4M735.5 1196.8v4.8M737.5 1196.8v5.72M739.5 1196.8v4.26M740.5 1196.8v1.21M741.5 1196.8v1.48M743.5 1196.8v5.73M744.5 1196.8v2.47M745.5 1196.8v2.27M746.5 1196.8v7.94M748.5 1196.8v1.2M749.5 1196.8v4.29M750.5 1196.8v1.46M752.5 1196.8v1.3M754.5 1196.8v3.69M756.5 1196.8v1.98M757.5 1196.8v5.93M759.5 1196.8v2.59M760.5 1196.8v3.01M761.5 1196.8v1.22M761.5 1196.8v7.21M763.5 1196.8v1.2M763.5 1196.8v3.11M765.5 1196.8v1.2M766.5 1196.8v5.3M768.5 1196.8v1.2M770.5 1196.8v7.52M771.5 1196.8v1.21M772.5 1196.8v5.22M773.5 1196.8v3.09M774.5 1196.8v1.21M776.5 1196.8v1.44M777.5 1196.8v1.33M778.5 1196.8v1.57M779.5 1196.8v2.16M781.5 1196.8v1.2M782.5 1196.8v4.66M784.5 1196.8v2.37M785.5 1196.8v1.21M786.5 1196.8v1.2M787.5 1196.8v8.21M788.5 1196.8v2.09M790.5 1196.8v2.11M791.5 1196.8v1.33M793.5 1196.8v1.27M794.5 1196.8v1.21M796.5 1196.8v4.87M798.5 1196.8v3.06M799.5 1196.8v1.66M800.5 1196.8v6.46M801.5 1196.8v1.34M803.5 1196.8v1.61M805.5 1196.8v1.93M806.5 1196.8v4.4M808.5 1196.8v1.46M809.5 1196.8v3.38M810.5 1196.8v1.83M812.5 1196.8v1.22M813.5 1196.8v1.3M814.5 1196.8v3.81M816.5 1196.8v1.23M817.5 1196.8v2.27M818.5 1196.8v1.25M820.5 1196.8v1.21M822.5 1196.8v1.63M824.5 1196.8v4.16M825.5 1196.8v3.15M826.5 1196.8v1.64M827.5 1196.8v4.91M828.5 1196.8v3.1M830.5 1196.8v2.85M831.5 1196.8v6.81M832.5 1196.8v4.35M833.5 1196.8v4.03M835.5 1196.8v3.77M837.5 1196.8v3.18M838.5 1196.8v3.06M839.5 1196.8v4.79M841.5 1196.8v1.32M842.5 1196.8v3M843.5 1196.8v7.24M844.5 1196.8v4.73M845.5 1196.8v8.14M846.5 1196.8v1.23M848.5 1196.8v2.25M849.5 1196.8v2.39M850.5 1196.8v3.16M852.5 1196.8v1.72M854.5 1196.8v3.6M855.5 1196.8v1.21M857.5 1196.8v1.2M858.5 1196.8v1.2M859.5 1196.8v3.75M861.5 1196.8v1.28M862.5 1196.8v2.3M863.5 1196.8v1.65M864.5 1196.8v4.71M866.5 1196.8v1.97M867.5 1196.8v7.92M869.5 1196.8v5.32M870.5 1196.8v1.39M872.5 1196.8v5.55M874.5 1196.8v1.32M875.5 1196.8v1.2M877.5 1196.8v1.31M878.5 1196.8v1.79M882.5 1196.8v5.46M887.5 1196.8v1.2M890.5 1196.8v1.22M892.5 1196.8v6.74M894.5 1196.8v6.51M903.5 1196.8v1.3M904.5 1196.8v1.2M906.5 1196.8v2.09M907.5 1196.8v6.02M912.5 1196.8v7.85M914.5 1196.8v2.9M918.5 1196.8v6.62M921.5 1196.8v6M922.5 1196.8v2.29M923.5 1196.8v1.82M926.5 1196.8v5.45M928.5 1196.8v1.35M932.5 1196.8v1.4M935.5 1196.8v4.03M937.5 1196.8v1.2M938.5 1196.8v1.25M947.5 1196.8v3.43M950.5 1196.8v1.2M953.5 1196.8v5.37M956.5 1196.8v1.76M957.5 1196.8v3.18M959.5 1196.8v2.57M959.5 1196.8v5.19M962.5 1196.8v1.64M965.5 1196.8v1.73M967.5 1196.8v1.2M971.5 1196.8v3.99M973.5 1196.8v4.68M976.5 1196.8v3.06M978.5 1196.8v7.28M980.5 1196.8v1.2M983.5 1196.8v4.11M985.5 1196.8v1.57M987.5 1196.8v3.53M990.5 1196.8v1.63M995.5 1196.8v8.13M1019.5 1196.8v2.47M1029.5 1196.8v5.14M1036.5 1196.8v1.24M1040.5 1196.8v1.2M1045.5 1196.8v2.8M1047.5 1196.8v8.49M1056.5 1196.8v1.26M1057.5 1196.8v1.2M1062.5 1196.8v2.8M1063.5 1196.8v7.82M1068.5 1196.8v7.96" stroke="#000" stroke-width="1" fill="none"/>
<path d="M239.5 1196.8v34.6M241.5 1196.8v11.7M261.5 1196.8v15.4M264.5 1196.8v23.4M280.5 1196.8v59M293.5 1196.8v9.2M304.5 1196.8v25.4M308.5 1196.8v11.7M328.5 1196.8v12.9M330.5 1196.8v37.1M350.5 1196.8v19.2M358.5 1196.8v20.4M365.5 1196.8v34.8M369.5 1196.8v21.7M374.5 1196.8v22.9M377.5 1196.8v15.4M391.5 1196.8v17.9M398.5 1196.8v33.3M404.5 1196.8v46.5M423.5 1196.8v12.9M434.5 1196.8v15.4M445.5 1196.8v30.9M450.5 1196.8v16.7M455.5 1196.8v27.9M464.5 1196.8v36.1M470.5 1196.8v10.5M482.5 1196.8v32.4M493.5 1196.8v34.1M497.5 1196.8v31.6M511.5 1196.8v51.8M530.5 1196.8v24.9M538.5 1196.8v14.9M547.5 1196.8v12.4M552.5 1196.8v84.1M559.5 1196.8v11.2M576.5 1196.8v26.9M585.5 1196.8v12.4M596.5 1196.8v34.1M607.5 1196.8v58.5M627.5 1196.8v55.3M649.5 1196.8v8.7M660.5 1196.8v14.9M663.5 1196.8v19.4M672.5 1196.8v84.6M714.5 1196.8v17.4M725.5 1196.8v13.7M738.5 1196.8v47.3M748.5 1196.8v14.9M752.5 1196.8v36.6M760.5 1196.8v56.7M780.5 1196.8v29.9M817.5 1196.8v22.4M818.5 1196.8v62.2M824.5 1196.8v14.9M828.5 1196.8v53.3M846.5 1196.8v14.9M882.5 1196.8v29M884.5 1196.8v31.1M893.5 1196.8v64.7M901.5 1196.8v5M943.5 1196.8v53.5M948.5 1196.8v11.2M951.5 1196.8v14.9M959.5 1196.8v30.6M969.5 1196.8v6.2M988.5 1196.8v15.4M1005.5 1196.8v5M1017.5 1196.8v14.2M1034.5 1196.8v6.2M1045.5 1196.8v28.6M1057.5 1196.8v105.8M1064.5 1196.8v8.7M1129.5 1196.8v15.4" stroke="#000" stroke-width="1.25" fill="none"/>
<path d="M245.5 1196.8V1145.3M248.5 1196.8V1148.5M257.5 1196.8V1128.6M281.5 1196.8V1134.1M284.5 1196.8V1136.5M299.5 1196.8V1129.1M301.5 1196.8V1130.2M302.5 1196.8V1132.5M309.5 1196.8V1127.3M321.5 1196.8V1129.3M328.5 1196.8V1126.6M344.5 1196.8V1127.8M448.5 1196.8V1127.8M583.5 1196.8V1121.9" stroke="#000" stroke-width="1.25" fill="none"/>
<line x1="256.8" y1="1123.3" x2="256.8" y2="1258.2" stroke="#8a3fd6" stroke-width="1.2"/>
<line x1="256.4" y1="1258.6" x2="237.3" y2="1277.8" stroke="#000" stroke-width="1.2"/>
<line x1="272" y1="853.5" x2="272" y2="1541" stroke="#261cc0" stroke-width="1.5"/>
<line x1="290.8" y1="1086.3" x2="290.8" y2="1329.5" stroke="#261cc0" stroke-width="1.5"/>
<line x1="323.6" y1="1116.2" x2="323.6" y2="1297.6" stroke="#261cc0" stroke-width="1.5"/>
<line x1="389.3" y1="1085" x2="389.3" y2="1279" stroke="#261cc0" stroke-width="1.5"/>
<line x1="487.2" y1="1116.9" x2="487.2" y2="1360" stroke="#d8263c" stroke-width="1.35"/>
<line x1="674.8" y1="1094.4" x2="674.8" y2="1284" stroke="#d8263c" stroke-width="1.35"/>
<line x1="835.9" y1="914.6" x2="835.9" y2="1360" stroke="#d8263c" stroke-width="1.35"/>
<line x1="982.4" y1="1089.2" x2="982.4" y2="1296" stroke="#d8263c" stroke-width="1.35"/>
<line x1="183.3" y1="1196.8" x2="1177.2" y2="1196.8" stroke="#000" stroke-width="1.9"/>
<line x1="193.8" y1="852.6" x2="193.8" y2="1541" stroke="#000" stroke-width="4.1" stroke-linecap="round"/>
<line x1="193.8" y1="1541" x2="1177.2" y2="1541" stroke="#000" stroke-width="4.1"/>
<line x1="184" y1="1541" x2="193.8" y2="1541" stroke="#000" stroke-width="4.1" stroke-linecap="round"/>
<line x1="187.8" y1="1506.58" x2="193.8" y2="1506.58" stroke="#000" stroke-width="3.7" stroke-linecap="round"/>
<line x1="187.8" y1="1472.16" x2="193.8" y2="1472.16" stroke="#000" stroke-width="3.7" stroke-linecap="round"/>
<line x1="187.8" y1="1437.74" x2="193.8" y2="1437.74" stroke="#000" stroke-width="3.7" stroke-linecap="round"/>
<line x1="187.8" y1="1403.32" x2="193.8" y2="1403.32" stroke="#000" stroke-width="3.7" stroke-linecap="round"/>
<line x1="184" y1="1368.9" x2="193.8" y2="1368.9" stroke="#000" stroke-width="4.1" stroke-linecap="round"/>
<line x1="187.8" y1="1334.48" x2="193.8" y2="1334.48" stroke="#000" stroke-width="3.7" stroke-linecap="round"/>
<line x1="187.8" y1="1300.06" x2="193.8" y2="1300.06" stroke="#000" stroke-width="3.7" stroke-linecap="round"/>
<line x1="187.8" y1="1265.64" x2="193.8" y2="1265.64" stroke="#000" stroke-width="3.7" stroke-linecap="round"/>
<line x1="187.8" y1="1231.22" x2="193.8" y2="1231.22" stroke="#000" stroke-width="3.7" stroke-linecap="round"/>
<line x1="184" y1="1196.8" x2="193.8" y2="1196.8" stroke="#000" stroke-width="2.8" stroke-linecap="round"/>
<line x1="187.8" y1="1162.38" x2="193.8" y2="1162.38" stroke="#000" stroke-width="3.7" stroke-linecap="round"/>
<line x1="187.8" y1="1127.96" x2="193.8" y2="1127.96" stroke="#000" stroke-width="3.7" stroke-linecap="round"/>
<line x1="187.8" y1="1093.54" x2="193.8" y2="1093.54" stroke="#000" stroke-width="3.7" stroke-linecap="round"/>
<line x1="187.8" y1="1059.12" x2="193.8" y2="1059.12" stroke="#000" stroke-width="3.7" stroke-linecap="round"/>
<line x1="184" y1="1024.7" x2="193.8" y2="1024.7" stroke="#000" stroke-width="4.1" stroke-linecap="round"/>
<line x1="187.8" y1="990.28" x2="193.8" y2="990.28" stroke="#000" stroke-width="3.7" stroke-linecap="round"/>
<line x1="187.8" y1="955.86" x2="193.8" y2="955.86" stroke="#000" stroke-width="3.7" stroke-linecap="round"/>
<line x1="187.8" y1="921.44" x2="193.8" y2="921.44" stroke="#000" stroke-width="3.7" stroke-linecap="round"/>
<line x1="187.8" y1="887.02" x2="193.8" y2="887.02" stroke="#000" stroke-width="3.7" stroke-linecap="round"/>
<line x1="184" y1="852.6" x2="193.8" y2="852.6" stroke="#000" stroke-width="4.1" stroke-linecap="round"/>
<line x1="199.55" y1="1541" x2="199.55" y2="1547.1" stroke="#000" stroke-width="3.7" stroke-linecap="round"/>
<line x1="232.7" y1="1541" x2="232.7" y2="1547.1" stroke="#000" stroke-width="3.7" stroke-linecap="round"/>
<line x1="265.85" y1="1541" x2="265.85" y2="1547.1" stroke="#000" stroke-width="3.7" stroke-linecap="round"/>
<line x1="299" y1="1541" x2="299" y2="1550.7" stroke="#000" stroke-width="4.1" stroke-linecap="round"/>
<line x1="332.15" y1="1541" x2="332.15" y2="1547.1" stroke="#000" stroke-width="3.7" stroke-linecap="round"/>
<line x1="365.3" y1="1541" x2="365.3" y2="1547.1" stroke="#000" stroke-width="3.7" stroke-linecap="round"/>
<line x1="398.45" y1="1541" x2="398.45" y2="1547.1" stroke="#000" stroke-width="3.7" stroke-linecap="round"/>
<line x1="431.6" y1="1541" x2="431.6" y2="1550.7" stroke="#000" stroke-width="4.1" stroke-linecap="round"/>
<line x1="464.75" y1="1541" x2="464.75" y2="1547.1" stroke="#000" stroke-width="3.7" stroke-linecap="round"/>
<line x1="497.9" y1="1541" x2="497.9" y2="1547.1" stroke="#000" stroke-width="3.7" stroke-linecap="round"/>
<line x1="531.05" y1="1541" x2="531.05" y2="1547.1" stroke="#000" stroke-width="3.7" stroke-linecap="round"/>
<line x1="564.2" y1="1541" x2="564.2" y2="1550.7" stroke="#000" stroke-width="4.1" stroke-linecap="round"/>
<line x1="597.35" y1="1541" x2="597.35" y2="1547.1" stroke="#000" stroke-width="3.7" stroke-linecap="round"/>
<line x1="630.5" y1="1541" x2="630.5" y2="1547.1" stroke="#000" stroke-width="3.7" stroke-linecap="round"/>
<line x1="663.65" y1="1541" x2="663.65" y2="1547.1" stroke="#000" stroke-width="3.7" stroke-linecap="round"/>
<line x1="696.8" y1="1541" x2="696.8" y2="1550.7" stroke="#000" stroke-width="4.1" stroke-linecap="round"/>
<line x1="729.95" y1="1541" x2="729.95" y2="1547.1" stroke="#000" stroke-width="3.7" stroke-linecap="round"/>
<line x1="763.1" y1="1541" x2="763.1" y2="1547.1" stroke="#000" stroke-width="3.7" stroke-linecap="round"/>
<line x1="796.25" y1="1541" x2="796.25" y2="1547.1" stroke="#000" stroke-width="3.7" stroke-linecap="round"/>
<line x1="829.4" y1="1541" x2="829.4" y2="1550.7" stroke="#000" stroke-width="4.1" stroke-linecap="round"/>
<line x1="862.55" y1="1541" x2="862.55" y2="1547.1" stroke="#000" stroke-width="3.7" stroke-linecap="round"/>
<line x1="895.7" y1="1541" x2="895.7" y2="1547.1" stroke="#000" stroke-width="3.7" stroke-linecap="round"/>
<line x1="928.85" y1="1541" x2="928.85" y2="1547.1" stroke="#000" stroke-width="3.7" stroke-linecap="round"/>
<line x1="962" y1="1541" x2="962" y2="1550.7" stroke="#000" stroke-width="4.1" stroke-linecap="round"/>
<line x1="995.15" y1="1541" x2="995.15" y2="1547.1" stroke="#000" stroke-width="3.7" stroke-linecap="round"/>
<line x1="1028.3" y1="1541" x2="1028.3" y2="1547.1" stroke="#000" stroke-width="3.7" stroke-linecap="round"/>
<line x1="1061.45" y1="1541" x2="1061.45" y2="1547.1" stroke="#000" stroke-width="3.7" stroke-linecap="round"/>
<line x1="1094.6" y1="1541" x2="1094.6" y2="1550.7" stroke="#000" stroke-width="4.1" stroke-linecap="round"/>
<line x1="1127.75" y1="1541" x2="1127.75" y2="1547.1" stroke="#000" stroke-width="3.7" stroke-linecap="round"/>
<line x1="1160.9" y1="1541" x2="1160.9" y2="1547.1" stroke="#000" stroke-width="3.7" stroke-linecap="round"/>
<text x="167.2" y="863.4" font-size="32.5" text-anchor="end">100</text>
<text x="167.2" y="1035.5" font-size="32.5" text-anchor="end">50</text>
<text x="167.2" y="1207.6" font-size="32.5" text-anchor="end">0</text>
<text x="167.2" y="1379.7" font-size="32.5" text-anchor="end">-50</text>
<text x="167.2" y="1551.8" font-size="32.5" text-anchor="end">-100</text>
<text x="299" y="1596" font-size="32.5" text-anchor="middle">200</text>
<text x="431.6" y="1596" font-size="32.5" text-anchor="middle">400</text>
<text x="564.2" y="1596" font-size="32.5" text-anchor="middle">600</text>
<text x="696.8" y="1596" font-size="32.5" text-anchor="middle">800</text>
<text x="829.4" y="1596" font-size="32.5" text-anchor="middle">1000</text>
<text x="962" y="1596" font-size="32.5" text-anchor="middle">1200</text>
<text x="1094.6" y="1596" font-size="32.5" text-anchor="middle">1400</text>
<text x="700.3" y="1670.2" font-size="31.2" text-anchor="middle" textLength="119.6" lengthAdjust="spacingAndGlyphs">m/z (Da)</text>
<text font-size="31.4" text-anchor="middle" textLength="265.4" lengthAdjust="spacingAndGlyphs" transform="translate(77.2 1190.6) rotate(-90)">relative abundance</text>
<text x="1035.2" y="1166" font-size="31" font-weight="bold" textLength="126.2" lengthAdjust="spacingAndGlyphs">T3.CIITA</text>
<text x="1034.9" y="1508.6" font-size="31" font-weight="bold" textLength="138.7" lengthAdjust="spacingAndGlyphs">synthetic</text>
<text x="257.4" y="844" font-size="26.8" font-weight="bold">a<tspan dy="8.2" font-size="16.5">2</tspan></text>
<text x="282.2" y="1071.1" font-size="26.8" font-weight="bold">b<tspan dy="8.2" font-size="16.5">2</tspan></text>
<text x="249.2" y="1119" font-size="27.3" font-weight="bold">Y</text>
<text x="478.6" y="1102.3" font-size="26.8" font-weight="bold">y<tspan dy="8.2" font-size="16.5">4</tspan></text>
<text x="662.1" y="1077" font-size="26.8" font-weight="bold">y<tspan dy="8.2" font-size="16.5">7</tspan></text>
<text x="812.4" y="902.5" font-size="26.8" font-weight="bold">y<tspan dy="8.2" font-size="16.5">9</tspan></text>
<text x="966.3" y="1074" font-size="26.8" font-weight="bold">y<tspan dy="8.2" font-size="16.5">11</tspan></text>
<text font-size="27" font-weight="bold" textLength="121.5" lengthAdjust="spacingAndGlyphs" transform="translate(334.6 1114.5) rotate(-90)">b<tspan dy="8.4" font-size="16.6">9-11</tspan><tspan dy="-8.4">/b</tspan><tspan dy="8.4" font-size="16.6">10-12</tspan></text>
<text font-size="27" font-weight="bold" textLength="121.7" lengthAdjust="spacingAndGlyphs" transform="translate(403.2 1077.1) rotate(-90)">b<tspan dy="8.4" font-size="16.6">9-12</tspan><tspan dy="-8.4">/b</tspan><tspan dy="8.4" font-size="16.6">10-13</tspan></text>
<text font-size="28.8" font-weight="bold" textLength="98.6" lengthAdjust="spacingAndGlyphs" transform="translate(234.9 1366.1) rotate(-90)">136.075</text>
<text font-size="28.8" font-weight="bold" textLength="98.4" lengthAdjust="spacingAndGlyphs" transform="translate(263 1480.4) rotate(-90)">159.113</text>
<text font-size="28.8" font-weight="bold" textLength="98.6" lengthAdjust="spacingAndGlyphs" transform="translate(301 1424.6) rotate(-90)">187.107</text>
<text font-size="28.8" font-weight="bold" textLength="99.4" lengthAdjust="spacingAndGlyphs" transform="translate(334 1396) rotate(-90)">237.136</text>
<text font-size="28.8" font-weight="bold" textLength="98.4" lengthAdjust="spacingAndGlyphs" transform="translate(398.4 1379.2) rotate(-90)">336.204</text>
<text font-size="28.8" font-weight="bold" textLength="98.6" lengthAdjust="spacingAndGlyphs" transform="translate(497.8 1460) rotate(-90)">483.256</text>
<text font-size="28.8" font-weight="bold" textLength="98.6" lengthAdjust="spacingAndGlyphs" transform="translate(684.3 1383.8) rotate(-90)">766.440</text>
<text font-size="28.8" font-weight="bold" textLength="111.6" lengthAdjust="spacingAndGlyphs" transform="translate(842 1473) rotate(-90)">1009.531</text>
<text font-size="28.8" font-weight="bold" textLength="113" lengthAdjust="spacingAndGlyphs" transform="translate(992.4 1411.3) rotate(-90)">1229.612</text>
<text x="416.6" y="892.4" font-size="31.5" textLength="32.8" lengthAdjust="spacingAndGlyphs" stroke="#000" stroke-width="0.8">SV</text>
<text x="461.4" y="892.4" font-size="31.5" textLength="17.8" lengthAdjust="spacingAndGlyphs" stroke="#000" stroke-width="0.8">N</text>
<text x="491" y="892.4" font-size="31.5" textLength="18.4" lengthAdjust="spacingAndGlyphs" stroke="#000" stroke-width="0.8">G</text>
<text x="511.4" y="892.4" font-size="31.5" fill="#f00000" textLength="17" lengthAdjust="spacingAndGlyphs" stroke="#f00000" stroke-width="0.8">Y</text>
<text x="537.2" y="892.4" font-size="31.5" textLength="36" lengthAdjust="spacingAndGlyphs" stroke="#000" stroke-width="0.8">NE</text>
<text x="582.6" y="892.4" font-size="31.5" textLength="47.4" lengthAdjust="spacingAndGlyphs" stroke="#000" stroke-width="0.8">AIV</text>
<text x="640.6" y="892.4" font-size="31.5" textLength="74.2" lengthAdjust="spacingAndGlyphs" stroke="#000" stroke-width="0.8">HVVE</text>
<path d="M447 899.2H458.4V859.2" fill="none" stroke="#000" stroke-width="2"/>
<path d="M486.1 899.2V859.2H496.8" fill="none" stroke="#000" stroke-width="2"/>
<path d="M530.1 899.2V859.2H541.4" fill="none" stroke="#000" stroke-width="2"/>
<path d="M576.8 899.2V859.2H587.6" fill="none" stroke="#000" stroke-width="2"/>
<path d="M633.4 899.2V859.2H643.8" fill="none" stroke="#000" stroke-width="2"/>
<text x="484.4" y="852.3" font-size="29" textLength="31" lengthAdjust="spacingAndGlyphs" stroke="#000" stroke-width="0.6">y<tspan dy="7.8" font-size="19.2">11</tspan></text>
<text x="528.3" y="852.3" font-size="29" textLength="22" lengthAdjust="spacingAndGlyphs" stroke="#000" stroke-width="0.6">y<tspan dy="7.8" font-size="19.2">9</tspan></text>
<text x="575.1" y="852.3" font-size="29" textLength="22" lengthAdjust="spacingAndGlyphs" stroke="#000" stroke-width="0.6">y<tspan dy="7.8" font-size="19.2">7</tspan></text>
<text x="630.4" y="852.3" font-size="29" textLength="22" lengthAdjust="spacingAndGlyphs" stroke="#000" stroke-width="0.6">y<tspan dy="7.8" font-size="19.2">4</tspan></text>
<text x="445.8" y="926.2" font-size="29" textLength="24" lengthAdjust="spacingAndGlyphs" stroke="#000" stroke-width="0.6">b<tspan dy="7.8" font-size="19.2">2</tspan></text>
</g>
</svg></body></html>
